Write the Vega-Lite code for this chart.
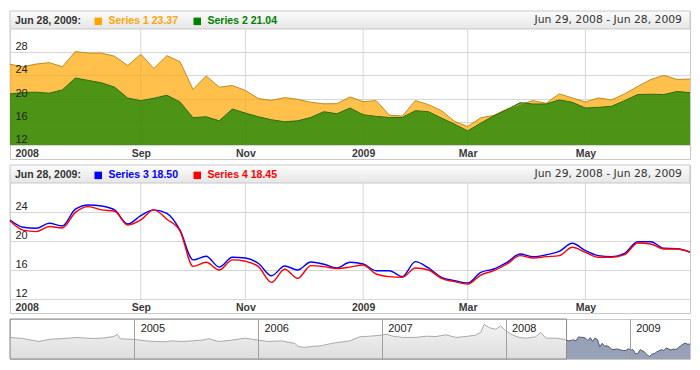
{
  "$schema": "https://vega.github.io/schema/vega-lite/v6.json",
  "padding": {"left": 6, "top": 10, "right": 10, "bottom": 10},
  "autosize": {"type": "pad"},
  "background": "white",
  "spacing": 4,
  "config": {
    "view": {"stroke": "#c8c8c8", "strokeWidth": 1},
    "axis": {"title": null},
    "font": "Liberation Sans"
  },
  "resolve": {
    "scale": {"color": "independent", "stroke": "independent", "x": "independent", "y": "independent"},
    "legend": {"color": "independent"}
  },
  "datasets": {
    "ticks": [
      {"date": "2008/06/29"}, {"date": "2008/09/07"}, {"date": "2008/11/02"},
      {"date": "2009/01/04"}, {"date": "2009/03/01"}, {"date": "2009/05/03"}
    ],
    "s12": [
      {"date": "2008/06/29", "series": "Series 1", "value": 25.91},
      {"date": "2008/07/06", "series": "Series 1", "value": 25.5},
      {"date": "2008/07/13", "series": "Series 1", "value": 25.95},
      {"date": "2008/07/20", "series": "Series 1", "value": 26.2},
      {"date": "2008/07/27", "series": "Series 1", "value": 25.5},
      {"date": "2008/08/03", "series": "Series 1", "value": 28.1},
      {"date": "2008/08/10", "series": "Series 1", "value": 27.85},
      {"date": "2008/08/17", "series": "Series 1", "value": 27.85},
      {"date": "2008/08/24", "series": "Series 1", "value": 27.3},
      {"date": "2008/08/31", "series": "Series 1", "value": 25.7},
      {"date": "2008/09/07", "series": "Series 1", "value": 27.65},
      {"date": "2008/09/14", "series": "Series 1", "value": 25.2},
      {"date": "2008/09/21", "series": "Series 1", "value": 27.4},
      {"date": "2008/09/28", "series": "Series 1", "value": 26.35},
      {"date": "2008/10/05", "series": "Series 1", "value": 21.57},
      {"date": "2008/10/12", "series": "Series 1", "value": 23.9},
      {"date": "2008/10/19", "series": "Series 1", "value": 21.97},
      {"date": "2008/10/26", "series": "Series 1", "value": 22.26},
      {"date": "2008/11/02", "series": "Series 1", "value": 21.4},
      {"date": "2008/11/09", "series": "Series 1", "value": 20.0},
      {"date": "2008/11/16", "series": "Series 1", "value": 19.7},
      {"date": "2008/11/23", "series": "Series 1", "value": 20.17},
      {"date": "2008/11/30", "series": "Series 1", "value": 19.88},
      {"date": "2008/12/07", "series": "Series 1", "value": 19.36},
      {"date": "2008/12/14", "series": "Series 1", "value": 19.1},
      {"date": "2008/12/21", "series": "Series 1", "value": 19.13},
      {"date": "2008/12/28", "series": "Series 1", "value": 20.29},
      {"date": "2009/01/04", "series": "Series 1", "value": 19.48},
      {"date": "2009/01/11", "series": "Series 1", "value": 19.65},
      {"date": "2009/01/18", "series": "Series 1", "value": 17.16},
      {"date": "2009/01/25", "series": "Series 1", "value": 16.99},
      {"date": "2009/02/01", "series": "Series 1", "value": 19.65},
      {"date": "2009/02/08", "series": "Series 1", "value": 18.96},
      {"date": "2009/02/15", "series": "Series 1", "value": 17.91},
      {"date": "2009/02/22", "series": "Series 1", "value": 16.06},
      {"date": "2009/03/01", "series": "Series 1", "value": 15.19},
      {"date": "2009/03/08", "series": "Series 1", "value": 16.7},
      {"date": "2009/03/15", "series": "Series 1", "value": 17.1},
      {"date": "2009/03/22", "series": "Series 1", "value": 18.2},
      {"date": "2009/03/29", "series": "Series 1", "value": 19.0},
      {"date": "2009/04/05", "series": "Series 1", "value": 19.65},
      {"date": "2009/04/12", "series": "Series 1", "value": 19.19},
      {"date": "2009/04/19", "series": "Series 1", "value": 20.81},
      {"date": "2009/04/26", "series": "Series 1", "value": 20.12},
      {"date": "2009/05/03", "series": "Series 1", "value": 19.42},
      {"date": "2009/05/10", "series": "Series 1", "value": 20.12},
      {"date": "2009/05/17", "series": "Series 1", "value": 19.77},
      {"date": "2009/05/24", "series": "Series 1", "value": 20.81},
      {"date": "2009/05/31", "series": "Series 1", "value": 22.09},
      {"date": "2009/06/07", "series": "Series 1", "value": 23.3},
      {"date": "2009/06/14", "series": "Series 1", "value": 24.0},
      {"date": "2009/06/21", "series": "Series 1", "value": 23.3},
      {"date": "2009/06/28", "series": "Series 1", "value": 23.37},
      {"date": "2008/06/29", "series": "Series 2", "value": 20.81},
      {"date": "2008/07/06", "series": "Series 2", "value": 21.04},
      {"date": "2008/07/13", "series": "Series 2", "value": 21.1},
      {"date": "2008/07/20", "series": "Series 2", "value": 20.93},
      {"date": "2008/07/27", "series": "Series 2", "value": 21.5},
      {"date": "2008/08/03", "series": "Series 2", "value": 23.54},
      {"date": "2008/08/10", "series": "Series 2", "value": 23.13},
      {"date": "2008/08/17", "series": "Series 2", "value": 22.72},
      {"date": "2008/08/24", "series": "Series 2", "value": 21.97},
      {"date": "2008/08/31", "series": "Series 2", "value": 20.1},
      {"date": "2008/09/07", "series": "Series 2", "value": 19.65},
      {"date": "2008/09/14", "series": "Series 2", "value": 20.06},
      {"date": "2008/09/21", "series": "Series 2", "value": 20.58},
      {"date": "2008/09/28", "series": "Series 2", "value": 19.42},
      {"date": "2008/10/05", "series": "Series 2", "value": 16.7},
      {"date": "2008/10/12", "series": "Series 2", "value": 16.87},
      {"date": "2008/10/19", "series": "Series 2", "value": 16.17},
      {"date": "2008/10/26", "series": "Series 2", "value": 18.2},
      {"date": "2008/11/02", "series": "Series 2", "value": 17.5},
      {"date": "2008/11/09", "series": "Series 2", "value": 16.87},
      {"date": "2008/11/16", "series": "Series 2", "value": 16.35},
      {"date": "2008/11/23", "series": "Series 2", "value": 16.0},
      {"date": "2008/11/30", "series": "Series 2", "value": 16.17},
      {"date": "2008/12/07", "series": "Series 2", "value": 16.75},
      {"date": "2008/12/14", "series": "Series 2", "value": 17.74},
      {"date": "2008/12/21", "series": "Series 2", "value": 17.39},
      {"date": "2008/12/28", "series": "Series 2", "value": 18.38},
      {"date": "2009/01/04", "series": "Series 2", "value": 17.22},
      {"date": "2009/01/11", "series": "Series 2", "value": 16.93},
      {"date": "2009/01/18", "series": "Series 2", "value": 16.75},
      {"date": "2009/01/25", "series": "Series 2", "value": 16.75},
      {"date": "2009/02/01", "series": "Series 2", "value": 17.91},
      {"date": "2009/02/08", "series": "Series 2", "value": 17.74},
      {"date": "2009/02/15", "series": "Series 2", "value": 16.64},
      {"date": "2009/02/22", "series": "Series 2", "value": 15.59},
      {"date": "2009/03/01", "series": "Series 2", "value": 14.43},
      {"date": "2009/03/08", "series": "Series 2", "value": 15.77},
      {"date": "2009/03/15", "series": "Series 2", "value": 17.04},
      {"date": "2009/03/22", "series": "Series 2", "value": 18.09},
      {"date": "2009/03/29", "series": "Series 2", "value": 19.3},
      {"date": "2009/04/05", "series": "Series 2", "value": 19.07},
      {"date": "2009/04/12", "series": "Series 2", "value": 19.07},
      {"date": "2009/04/19", "series": "Series 2", "value": 19.77},
      {"date": "2009/04/26", "series": "Series 2", "value": 19.36},
      {"date": "2009/05/03", "series": "Series 2", "value": 18.38},
      {"date": "2009/05/10", "series": "Series 2", "value": 18.49},
      {"date": "2009/05/17", "series": "Series 2", "value": 18.67},
      {"date": "2009/05/24", "series": "Series 2", "value": 19.65},
      {"date": "2009/05/31", "series": "Series 2", "value": 20.7},
      {"date": "2009/06/07", "series": "Series 2", "value": 20.75},
      {"date": "2009/06/14", "series": "Series 2", "value": 20.7},
      {"date": "2009/06/21", "series": "Series 2", "value": 21.22},
      {"date": "2009/06/28", "series": "Series 2", "value": 21.04}
    ],
    "s34": [
      {"date": "2008/06/29", "series": "Series 3", "value": 22.9},
      {"date": "2008/07/06", "series": "Series 3", "value": 21.9},
      {"date": "2008/07/13", "series": "Series 3", "value": 21.75},
      {"date": "2008/07/20", "series": "Series 3", "value": 22.44},
      {"date": "2008/07/27", "series": "Series 3", "value": 22.07},
      {"date": "2008/08/03", "series": "Series 3", "value": 24.4},
      {"date": "2008/08/10", "series": "Series 3", "value": 24.97},
      {"date": "2008/08/17", "series": "Series 3", "value": 24.83},
      {"date": "2008/08/24", "series": "Series 3", "value": 24.28},
      {"date": "2008/08/31", "series": "Series 3", "value": 22.34},
      {"date": "2008/09/07", "series": "Series 3", "value": 23.5},
      {"date": "2008/09/14", "series": "Series 3", "value": 24.3},
      {"date": "2008/09/21", "series": "Series 3", "value": 23.8},
      {"date": "2008/09/28", "series": "Series 3", "value": 21.5},
      {"date": "2008/10/05", "series": "Series 3", "value": 17.4},
      {"date": "2008/10/12", "series": "Series 3", "value": 17.9},
      {"date": "2008/10/19", "series": "Series 3", "value": 16.4},
      {"date": "2008/10/26", "series": "Series 3", "value": 17.75},
      {"date": "2008/11/02", "series": "Series 3", "value": 17.65},
      {"date": "2008/11/09", "series": "Series 3", "value": 16.9},
      {"date": "2008/11/16", "series": "Series 3", "value": 15.2},
      {"date": "2008/11/23", "series": "Series 3", "value": 16.55},
      {"date": "2008/11/30", "series": "Series 3", "value": 16.0},
      {"date": "2008/12/07", "series": "Series 3", "value": 17.1},
      {"date": "2008/12/14", "series": "Series 3", "value": 16.8},
      {"date": "2008/12/21", "series": "Series 3", "value": 16.3},
      {"date": "2008/12/28", "series": "Series 3", "value": 17.06},
      {"date": "2009/01/04", "series": "Series 3", "value": 16.83},
      {"date": "2009/01/11", "series": "Series 3", "value": 15.9},
      {"date": "2009/01/18", "series": "Series 3", "value": 15.9},
      {"date": "2009/01/25", "series": "Series 3", "value": 15.08},
      {"date": "2009/02/01", "series": "Series 3", "value": 17.15},
      {"date": "2009/02/08", "series": "Series 3", "value": 16.28},
      {"date": "2009/02/15", "series": "Series 3", "value": 14.99},
      {"date": "2009/02/22", "series": "Series 3", "value": 14.53},
      {"date": "2009/03/01", "series": "Series 3", "value": 14.2},
      {"date": "2009/03/08", "series": "Series 3", "value": 15.68},
      {"date": "2009/03/15", "series": "Series 3", "value": 16.14},
      {"date": "2009/03/22", "series": "Series 3", "value": 17.06},
      {"date": "2009/03/29", "series": "Series 3", "value": 18.2},
      {"date": "2009/04/05", "series": "Series 3", "value": 17.84},
      {"date": "2009/04/12", "series": "Series 3", "value": 18.1},
      {"date": "2009/04/19", "series": "Series 3", "value": 18.57},
      {"date": "2009/04/26", "series": "Series 3", "value": 19.68},
      {"date": "2009/05/03", "series": "Series 3", "value": 18.67},
      {"date": "2009/05/10", "series": "Series 3", "value": 17.98},
      {"date": "2009/05/17", "series": "Series 3", "value": 17.84},
      {"date": "2009/05/24", "series": "Series 3", "value": 18.3},
      {"date": "2009/05/31", "series": "Series 3", "value": 19.9},
      {"date": "2009/06/07", "series": "Series 3", "value": 19.9},
      {"date": "2009/06/14", "series": "Series 3", "value": 18.99},
      {"date": "2009/06/21", "series": "Series 3", "value": 18.94},
      {"date": "2009/06/28", "series": "Series 3", "value": 18.5},
      {"date": "2008/06/29", "series": "Series 4", "value": 22.8},
      {"date": "2008/07/06", "series": "Series 4", "value": 21.5},
      {"date": "2008/07/13", "series": "Series 4", "value": 21.3},
      {"date": "2008/07/20", "series": "Series 4", "value": 22.0},
      {"date": "2008/07/27", "series": "Series 4", "value": 21.8},
      {"date": "2008/08/03", "series": "Series 4", "value": 23.95},
      {"date": "2008/08/10", "series": "Series 4", "value": 24.74},
      {"date": "2008/08/17", "series": "Series 4", "value": 24.3},
      {"date": "2008/08/24", "series": "Series 4", "value": 24.1},
      {"date": "2008/08/31", "series": "Series 4", "value": 22.2},
      {"date": "2008/09/07", "series": "Series 4", "value": 22.9},
      {"date": "2008/09/14", "series": "Series 4", "value": 24.3},
      {"date": "2008/09/21", "series": "Series 4", "value": 23.0},
      {"date": "2008/09/28", "series": "Series 4", "value": 21.4},
      {"date": "2008/10/05", "series": "Series 4", "value": 16.5},
      {"date": "2008/10/12", "series": "Series 4", "value": 17.06},
      {"date": "2008/10/19", "series": "Series 4", "value": 16.0},
      {"date": "2008/10/26", "series": "Series 4", "value": 17.4},
      {"date": "2008/11/02", "series": "Series 4", "value": 17.2},
      {"date": "2008/11/09", "series": "Series 4", "value": 16.46},
      {"date": "2008/11/16", "series": "Series 4", "value": 14.3},
      {"date": "2008/11/23", "series": "Series 4", "value": 16.1},
      {"date": "2008/11/30", "series": "Series 4", "value": 14.85},
      {"date": "2008/12/07", "series": "Series 4", "value": 16.6},
      {"date": "2008/12/14", "series": "Series 4", "value": 16.46},
      {"date": "2008/12/21", "series": "Series 4", "value": 16.2},
      {"date": "2008/12/28", "series": "Series 4", "value": 16.4},
      {"date": "2009/01/04", "series": "Series 4", "value": 16.69},
      {"date": "2009/01/11", "series": "Series 4", "value": 15.45},
      {"date": "2009/01/18", "series": "Series 4", "value": 15.08},
      {"date": "2009/01/25", "series": "Series 4", "value": 14.99},
      {"date": "2009/02/01", "series": "Series 4", "value": 16.28},
      {"date": "2009/02/08", "series": "Series 4", "value": 16.0},
      {"date": "2009/02/15", "series": "Series 4", "value": 14.85},
      {"date": "2009/02/22", "series": "Series 4", "value": 14.39},
      {"date": "2009/03/01", "series": "Series 4", "value": 14.07},
      {"date": "2009/03/08", "series": "Series 4", "value": 15.31},
      {"date": "2009/03/15", "series": "Series 4", "value": 15.9},
      {"date": "2009/03/22", "series": "Series 4", "value": 16.83},
      {"date": "2009/03/29", "series": "Series 4", "value": 17.98},
      {"date": "2009/04/05", "series": "Series 4", "value": 17.66},
      {"date": "2009/04/12", "series": "Series 4", "value": 17.84},
      {"date": "2009/04/19", "series": "Series 4", "value": 17.98},
      {"date": "2009/04/26", "series": "Series 4", "value": 19.13},
      {"date": "2009/05/03", "series": "Series 4", "value": 18.44},
      {"date": "2009/05/10", "series": "Series 4", "value": 17.75},
      {"date": "2009/05/17", "series": "Series 4", "value": 17.75},
      {"date": "2009/05/24", "series": "Series 4", "value": 18.11},
      {"date": "2009/05/31", "series": "Series 4", "value": 19.72},
      {"date": "2009/06/07", "series": "Series 4", "value": 19.59},
      {"date": "2009/06/14", "series": "Series 4", "value": 18.9},
      {"date": "2009/06/21", "series": "Series 4", "value": 18.9},
      {"date": "2009/06/28", "series": "Series 4", "value": 18.45}
    ],
    "hist": [
      {"date": "2004/01/01", "value": 27.8}, {"date": "2004/02/07", "value": 27.1},
      {"date": "2004/03/03", "value": 26.0}, {"date": "2004/03/27", "value": 25.1},
      {"date": "2004/04/25", "value": 26.5}, {"date": "2004/05/25", "value": 26.9},
      {"date": "2004/06/23", "value": 27.3}, {"date": "2004/07/17", "value": 27.8},
      {"date": "2004/08/11", "value": 27.3}, {"date": "2004/09/10", "value": 27.1},
      {"date": "2004/10/09", "value": 27.6}, {"date": "2004/11/02", "value": 28.4},
      {"date": "2004/11/12", "value": 29.9}, {"date": "2004/11/22", "value": 26.9},
      {"date": "2005/01/01", "value": 26.5}, {"date": "2005/02/04", "value": 25.5},
      {"date": "2005/03/05", "value": 25.1}, {"date": "2005/04/04", "value": 24.9},
      {"date": "2005/04/23", "value": 25.5}, {"date": "2005/05/22", "value": 25.1},
      {"date": "2005/06/21", "value": 25.5}, {"date": "2005/07/20", "value": 26.0},
      {"date": "2005/08/09", "value": 26.9}, {"date": "2005/09/07", "value": 25.1},
      {"date": "2005/10/16", "value": 26.0}, {"date": "2005/11/24", "value": 27.3},
      {"date": "2006/01/01", "value": 26.0}, {"date": "2006/02/01", "value": 25.1},
      {"date": "2006/03/12", "value": 25.5}, {"date": "2006/04/20", "value": 23.8},
      {"date": "2006/04/30", "value": 21.8}, {"date": "2006/05/19", "value": 21.2},
      {"date": "2006/06/08", "value": 21.8}, {"date": "2006/07/07", "value": 22.3},
      {"date": "2006/08/06", "value": 23.8}, {"date": "2006/08/25", "value": 24.5},
      {"date": "2006/09/29", "value": 25.5}, {"date": "2006/10/28", "value": 28.2},
      {"date": "2006/11/26", "value": 28.6}, {"date": "2007/01/01", "value": 29.3},
      {"date": "2007/01/14", "value": 29.9}, {"date": "2007/02/03", "value": 28.6},
      {"date": "2007/03/04", "value": 27.8}, {"date": "2007/04/12", "value": 27.8},
      {"date": "2007/05/12", "value": 28.6}, {"date": "2007/06/10", "value": 28.4},
      {"date": "2007/07/09", "value": 29.5}, {"date": "2007/08/08", "value": 27.8},
      {"date": "2007/09/06", "value": 28.4}, {"date": "2007/10/05", "value": 29.3},
      {"date": "2007/10/20", "value": 31.1}, {"date": "2007/10/30", "value": 36.5},
      {"date": "2007/11/13", "value": 34.3}, {"date": "2007/12/03", "value": 33.2},
      {"date": "2007/12/18", "value": 35.4}, {"date": "2008/01/02", "value": 32.1},
      {"date": "2008/01/21", "value": 29.5}, {"date": "2008/02/10", "value": 27.8},
      {"date": "2008/03/01", "value": 27.3}, {"date": "2008/03/30", "value": 28.2},
      {"date": "2008/04/14", "value": 31.1}, {"date": "2008/04/29", "value": 27.3},
      {"date": "2008/05/28", "value": 27.3}, {"date": "2008/06/22", "value": 26.5},
      {"date": "2008/06/29", "value": 25.91}
    ],
    "window": [{"start": "2004/01/01", "end": "2008/06/29"}],
    "range": [{"date": "2009/06/28", "label": "Jun 29, 2008 - Jun 28, 2009"}]
  },
  "vconcat": [
    {
      "width": 680,
      "height": 148,
      "resolve": {"axis": {"y": "independent"}},
      "layer": [
        {
          "data": {"values": [{}]},
          "mark": {
            "type": "rect",
            "stroke": "#c8c8c8",
            "strokeWidth": 1,
            "color": {"gradient": "linear", "x1": 0, "y1": 0, "x2": 0, "y2": 1,
              "stops": [{"offset": 0, "color": "#fcfcfc"}, {"offset": 1, "color": "#e6e6e6"}]}
          },
          "encoding": {
            "y": {"datum": 32, "type": "quantitative",
              "scale": {"domain": [9.586, 35.103], "nice": false, "zero": false},
              "axis": {"orient": "left", "values": [12, 16, 20, 24, 28], "grid": true, "gridColor": "#d6d6d6", "labels": false, "ticks": false, "domain": false, "title": null}},
            "y2": {"datum": 35.103}
          }
        },
        {
          "data": {"name": "ticks"},
          "mark": {"type": "rule", "color": "#d6d6d6", "strokeWidth": 1},
          "encoding": {
            "x": {"field": "date", "type": "temporal",
              "scale": {"domain": [{"year": 2008, "month": 6, "date": 29}, {"year": 2009, "month": 6, "date": 28}]},
              "axis": {
                "values": [{"year": 2008, "month": 6, "date": 29}, {"year": 2008, "month": 9, "date": 7}, {"year": 2008, "month": 11, "date": 2}, {"year": 2009, "month": 1, "date": 4}, {"year": 2009, "month": 3, "date": 1}, {"year": 2009, "month": 5, "date": 3}],
                "labelExpr": "(month(datum.value) == 0 || month(datum.value) == 5) ? timeFormat(datum.value, '%Y') : timeFormat(datum.value, '%b')",
                "grid": false, "ticks": false, "tickSize": 0, "domain": false, "title": null,
                "labelPadding": -6, "labelBaseline": "middle",
                "labelFont": "Liberation Sans", "labelFontWeight": "bold", "labelFontSize": 10.5, "labelColor": "#3a3a3a",
                "labelFlush": true, "labelFlushOffset": -5, "labelOverlap": false
              }},
            "y": {"datum": 12, "type": "quantitative", "axis": null},
            "y2": {"datum": 32}
          }
        },
        {
          "data": {"name": "s12"},
          "mark": {"type": "area", "fillOpacity": 0.7, "strokeWidth": 0},
          "encoding": {
            "x": {"field": "date", "type": "temporal"},
            "y": {"field": "value", "type": "quantitative", "stack": null,
              "axis": {"orient": "left", "values": [12, 16, 20, 24, 28], "grid": false, "ticks": false, "domain": false, "title": null,
                "labelAlign": "left", "labelPadding": -5, "labelBaseline": "alphabetic", "labelOffset": -2.5,
                "labelFont": "Liberation Sans", "labelFontSize": 11, "labelColor": "#222222", "zindex": 1}},
            "y2": {"datum": 12},
            "color": {"field": "series", "type": "nominal",
              "scale": {"domain": ["Series 1", "Series 2"], "range": ["#FFA500", "#008000"]},
              "legend": {
                "orient": "top-left", "offset": 5, "padding": 0, "direction": "horizontal",
                "title": "Jun 28, 2009:", "titleOrient": "left", "titleFont": "Liberation Sans", "titleFontSize": 10.5,
                "titleFontWeight": "bold", "titleColor": "#333333", "titlePadding": 12, "titleBaseline": "middle",
                "labelFont": "Liberation Sans", "labelFontSize": 10.5, "labelFontWeight": "bold", "labelOffset": 5,
                "columnPadding": 14, "symbolType": "square", "symbolSize": 56, "symbolStrokeWidth": 0, "symbolOpacity": 1,
                "labelExpr": "datum.label == 'Series 1' ? 'Series 1 23.37' : 'Series 2 21.04'",
                "encode": {
                  "labels": {"update": {"fill": {"signal": "datum.value == 'Series 1' ? '#FFA500' : '#008000'"}}},
                  "symbols": {"update": {"fill": {"signal": "datum.value == 'Series 1' ? '#FFA500' : '#008000'"}, "fillOpacity": {"value": 1}, "opacity": {"value": 1}}}
                }
              }}
          }
        },
        {
          "data": {"name": "s12"},
          "mark": {"type": "line", "strokeWidth": 1},
          "encoding": {
            "x": {"field": "date", "type": "temporal"},
            "y": {"field": "value", "type": "quantitative", "axis": null},
            "stroke": {"field": "series", "type": "nominal",
              "scale": {"domain": ["Series 1", "Series 2"], "range": ["#C08A1E", "#2C6C10"]}, "legend": null}
          }
        },
        {
          "data": {"name": "range"},
          "mark": {"type": "text", "align": "right", "baseline": "middle", "dx": -8, "font": "DejaVu Sans", "fontSize": 10.8, "color": "#333333"},
          "encoding": {
            "x": {"field": "date", "type": "temporal"},
            "y": {"datum": 33.55, "type": "quantitative", "axis": null},
            "text": {"field": "label"}
          }
        }
      ]
    },
    {
      "width": 680,
      "height": 148,
      "resolve": {"axis": {"y": "independent"}},
      "layer": [
        {
          "data": {"values": [{}]},
          "mark": {
            "type": "rect",
            "stroke": "#c8c8c8",
            "strokeWidth": 1,
            "color": {"gradient": "linear", "x1": 0, "y1": 0, "x2": 0, "y2": 1,
              "stops": [{"offset": 0, "color": "#fcfcfc"}, {"offset": 1, "color": "#e6e6e6"}]}
          },
          "encoding": {
            "y": {"datum": 28, "type": "quantitative",
              "scale": {"domain": [10.069, 30.483], "nice": false, "zero": false},
              "axis": {"orient": "left", "values": [12, 16, 20, 24], "grid": true, "gridColor": "#d6d6d6", "labels": false, "ticks": false, "domain": false, "title": null}},
            "y2": {"datum": 30.483}
          }
        },
        {
          "data": {"name": "ticks"},
          "mark": {"type": "rule", "color": "#d6d6d6", "strokeWidth": 1},
          "encoding": {
            "x": {"field": "date", "type": "temporal",
              "scale": {"domain": [{"year": 2008, "month": 6, "date": 29}, {"year": 2009, "month": 6, "date": 28}]},
              "axis": {
                "values": [{"year": 2008, "month": 6, "date": 29}, {"year": 2008, "month": 9, "date": 7}, {"year": 2008, "month": 11, "date": 2}, {"year": 2009, "month": 1, "date": 4}, {"year": 2009, "month": 3, "date": 1}, {"year": 2009, "month": 5, "date": 3}],
                "labelExpr": "(month(datum.value) == 0 || month(datum.value) == 5) ? timeFormat(datum.value, '%Y') : timeFormat(datum.value, '%b')",
                "grid": false, "ticks": false, "tickSize": 0, "domain": false, "title": null,
                "labelPadding": -6, "labelBaseline": "middle",
                "labelFont": "Liberation Sans", "labelFontWeight": "bold", "labelFontSize": 10.5, "labelColor": "#3a3a3a",
                "labelFlush": true, "labelFlushOffset": -5, "labelOverlap": false
              }},
            "y": {"datum": 12, "type": "quantitative", "axis": null},
            "y2": {"datum": 28}
          }
        },
        {
          "data": {"name": "s34"},
          "mark": {"type": "line", "interpolate": "monotone", "strokeWidth": 1.4},
          "encoding": {
            "x": {"field": "date", "type": "temporal"},
            "y": {"field": "value", "type": "quantitative",
              "axis": {"orient": "left", "values": [12, 16, 20, 24], "grid": false, "ticks": false, "domain": false, "title": null,
                "labelAlign": "left", "labelPadding": -5, "labelBaseline": "alphabetic", "labelOffset": -2.5,
                "labelFont": "Liberation Sans", "labelFontSize": 11, "labelColor": "#222222", "zindex": 1}},
            "color": {"field": "series", "type": "nominal",
              "scale": {"domain": ["Series 3", "Series 4"], "range": ["#0000FF", "#FF0000"]},
              "legend": {
                "orient": "top-left", "offset": 5, "padding": 0, "direction": "horizontal",
                "title": "Jun 28, 2009:", "titleOrient": "left", "titleFont": "Liberation Sans", "titleFontSize": 10.5,
                "titleFontWeight": "bold", "titleColor": "#333333", "titlePadding": 12, "titleBaseline": "middle",
                "labelFont": "Liberation Sans", "labelFontSize": 10.5, "labelFontWeight": "bold", "labelOffset": 5,
                "columnPadding": 14, "symbolType": "square", "symbolSize": 56, "symbolStrokeWidth": 0, "symbolOpacity": 1,
                "labelExpr": "datum.label == 'Series 3' ? 'Series 3 18.50' : 'Series 4 18.45'",
                "encode": {
                  "labels": {"update": {"fill": {"signal": "datum.value == 'Series 3' ? '#0000FF' : '#FF0000'"}}},
                  "symbols": {"update": {"fill": {"signal": "datum.value == 'Series 3' ? '#0000FF' : '#FF0000'"}, "fillOpacity": {"value": 1}, "opacity": {"value": 1}, "strokeWidth": {"value": 0}}}
                }
              }}
          }
        },
        {
          "data": {"name": "range"},
          "mark": {"type": "text", "align": "right", "baseline": "middle", "dx": -8, "font": "DejaVu Sans", "fontSize": 10.8, "color": "#333333"},
          "encoding": {
            "x": {"field": "date", "type": "temporal"},
            "y": {"datum": 29.24, "type": "quantitative", "axis": null},
            "text": {"field": "label"}
          }
        }
      ]
    },
    {
      "width": 680,
      "height": 40,
      "layer": [
        {
          "data": {"name": "hist"},
          "mark": {
            "type": "area",
            "color": {"gradient": "linear", "x1": 0, "y1": 0, "x2": 0, "y2": 1,
              "stops": [{"offset": 0, "color": "#eeeeee"}, {"offset": 1, "color": "#cfcfcf"}]},
            "line": {"color": "#a9a9a9", "strokeWidth": 1}
          },
          "encoding": {
            "x": {"field": "date", "type": "temporal",
              "scale": {"domain": [{"year": 2004, "month": 1, "date": 1}, {"year": 2009, "month": 6, "date": 28}]},
              "axis": {
                "orient": "top",
                "values": [{"year": 2005, "month": 1, "date": 1}, {"year": 2006, "month": 1, "date": 1}, {"year": 2007, "month": 1, "date": 1}, {"year": 2008, "month": 1, "date": 1}, {"year": 2009, "month": 1, "date": 1}],
                "format": "%Y", "grid": true, "gridColor": "#a0a0a0", "ticks": false, "tickSize": 0, "domain": false, "title": null,
                "labelAlign": "left", "labelBaseline": "alphabetic", "labelPadding": -12.5, "labelOffset": 6,
                "labelFont": "Liberation Sans", "labelFontSize": 11, "labelColor": "#222222",
                "labelFlush": false, "labelOverlap": false, "zindex": 1
              }},
            "y": {"field": "value", "type": "quantitative", "scale": {"domain": [13.5, 40], "nice": false, "zero": false}, "axis": null},
            "y2": {"datum": 13.5}
          }
        },
        {
          "data": {"name": "s12"},
          "transform": [{"filter": "datum.series == 'Series 1'"}],
          "mark": {"type": "area", "color": "#6d7997", "line": {"color": "#4b5775", "strokeWidth": 1}},
          "encoding": {
            "x": {"field": "date", "type": "temporal"},
            "y": {"field": "value", "type": "quantitative"},
            "y2": {"datum": 13.5}
          }
        },
        {
          "data": {"name": "window"},
          "mark": {"type": "rect", "fill": null, "stroke": "#8c8c8c", "strokeWidth": 1},
          "encoding": {
            "x": {"field": "start", "type": "temporal"},
            "x2": {"field": "end"}
          }
        }
      ]
    }
  ]
}
